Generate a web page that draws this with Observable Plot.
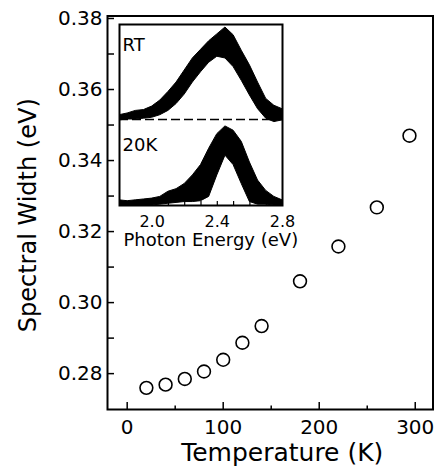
<!DOCTYPE html>
<html><head><meta charset="utf-8">
<script src="https://cdn.jsdelivr.net/npm/d3@7"></script>
<script src="https://cdn.jsdelivr.net/npm/@observablehq/plot@0.6"></script>
<style>
body{margin:0;background:#fff;}
#wrap{position:relative;width:438px;height:466px;overflow:hidden;background:#fff;}
#wrap svg{position:absolute;font-family:"DejaVu Sans",sans-serif;background:transparent;}
</style></head><body><div id="wrap"></div>
<script>
// Main chart data
const temperatures = [20, 40, 60, 80, 100, 120, 140, 180, 220, 260, 294];
const spectralWidths = [0.2760, 0.2769, 0.2785, 0.2806, 0.2839, 0.2887, 0.2934, 0.3060, 0.3158, 0.3268, 0.3470];
const xMajorTicks = [0, 100, 200, 300];
const xMinorTicks = [50, 150, 250];
const yMajorTicks = [0.28, 0.30, 0.32, 0.34, 0.36, 0.38];
const yMinorTicks = [0.29, 0.31, 0.33, 0.35, 0.37];
const xTitle = "Temperature (K)";
const yTitle = "Spectral Width (eV)";

// Inset data (band envelopes of the noisy spectra, normalised intensity)
const energies = [1.80,1.85,1.90,1.95,2.00,2.05,2.10,2.15,2.20,2.25,2.30,2.35,2.40,2.45,2.50,2.55,2.60,2.65,2.70,2.75,2.80];
const rtHigh = [0.05,0.07,0.10,0.11,0.15,0.22,0.32,0.43,0.57,0.71,0.81,0.91,0.99,1.07,0.98,0.80,0.63,0.43,0.24,0.16,0.12];
const rtLow  = [-0.01,0.00,0.00,0.01,0.02,0.05,0.10,0.18,0.29,0.43,0.55,0.66,0.73,0.71,0.61,0.45,0.28,0.12,0.01,-0.03,-0.01];
const k20High = [0.06,0.05,0.06,0.07,0.08,0.10,0.16,0.19,0.25,0.35,0.47,0.66,0.83,0.92,0.87,0.74,0.50,0.29,0.17,0.10,0.06];
const k20Low  = [0,0,0,0,0,0.01,0.02,0.03,0.04,0.04,0.05,0.10,0.35,0.58,0.47,0.25,0.04,0.01,0.01,0,0];
const rtOffset = 1;
const insetMinorTicks = [1.9,2.0,2.1,2.2,2.3,2.4,2.5,2.6,2.7];
const insetTickLabels = [2.0, 2.4, 2.8];
const insetTitle = "Photon Energy (eV)";
const rtLabel = "RT";
const k20Label = "20K";

const FONT = "DejaVu Sans";
const points = temperatures.map((T, i) => ({T, w: spectralWidths[i]}));
const rtRows = energies.map((E, i) => ({E, lo: rtLow[i] + rtOffset, hi: rtHigh[i] + rtOffset}));
const k20Rows = energies.map((E, i) => ({E, lo: k20Low[i], hi: k20High[i]}));

const main = Plot.plot({
  width: 438, height: 466,
  marginLeft: 107, marginRight: 5.5, marginTop: 15.5, marginBottom: 57,
  style: {fontFamily: FONT, fontSize: "20px", color: "black", background: "transparent"},
  x: {domain: [-20.5, 318.5]},
  y: {domain: [0.2699, 0.3807]},
  marks: [
    Plot.axisX(xMajorTicks, {tickSize: -7, tickPadding: 17, strokeWidth: 1.5, label: null, tickFormat: d => String(d)}),
    Plot.axisX(xMinorTicks, {tickSize: -3.5, fill: "none", strokeWidth: 1.5, label: null}),
    Plot.axisY(yMajorTicks, {tickSize: -7, tickPadding: 12, strokeWidth: 1.5, label: null, tickFormat: d3.format(".2f")}),
    Plot.axisY(yMinorTicks, {tickSize: -7, fill: "none", strokeWidth: 1.5, label: null}),
    Plot.frame({strokeWidth: 2}),
    Plot.dot(points, {x: "T", y: "w", r: 6.4, stroke: "black", strokeWidth: 1.6, fill: "white"}),
    Plot.text([xTitle], {text: d => d, frameAnchor: "bottom", dx: 12, dy: 43, fontSize: 25, textAnchor: "middle", lineAnchor: "middle"}),
    Plot.text([yTitle], {text: d => d, frameAnchor: "left", dx: -79, dy: 2.5, rotate: -90, fontSize: 24, textAnchor: "middle", lineAnchor: "middle"})
  ]
});
main.style.left = "0px"; main.style.top = "0px";

const inset = Plot.plot({
  width: 197, height: 223,
  marginLeft: 6, marginRight: 28, marginTop: 2, marginBottom: 40,
  style: {fontFamily: FONT, fontSize: "16px", color: "black", background: "transparent", overflow: "visible"},
  x: {domain: [1.8, 2.8]},
  y: {domain: [0, 2.105], axis: null},
  marks: [
    Plot.frame({fill: "white"}),
    Plot.areaY(rtRows, {x: "E", y1: "lo", y2: "hi", fill: "black", stroke: "black", strokeWidth: 1, clip: true}),
    Plot.areaY(k20Rows, {x: "E", y1: "lo", y2: "hi", fill: "black", stroke: "black", strokeWidth: 1, clip: true}),
    Plot.ruleY([rtOffset], {strokeDasharray: "9,4", strokeWidth: 1.5}),
    Plot.axisX(insetMinorTicks, {tickSize: -4, fill: "none", strokeWidth: 1.2, label: null}),
    Plot.axisX(insetTickLabels, {tickSize: 0, tickPadding: 10, label: null, tickFormat: d3.format(".1f")}),
    Plot.frame({strokeWidth: 2}),
    Plot.text([rtLabel], {text: d => d, frameAnchor: "top-left", dx: 3, dy: 14, lineAnchor: "top", fontSize: 18}),
    Plot.text([k20Label], {text: d => d, frameAnchor: "top-left", dx: 3, dy: 114, lineAnchor: "top", fontSize: 18}),
    Plot.text([insetTitle], {text: d => d, frameAnchor: "bottom-left", dx: 4, dy: 35, textAnchor: "start", lineAnchor: "middle", fontSize: 18})
  ]
});
inset.style.left = "113px"; inset.style.top = "22px";

const wrap = document.getElementById("wrap");
wrap.appendChild(main);
wrap.appendChild(inset);
</script>
</body></html>
